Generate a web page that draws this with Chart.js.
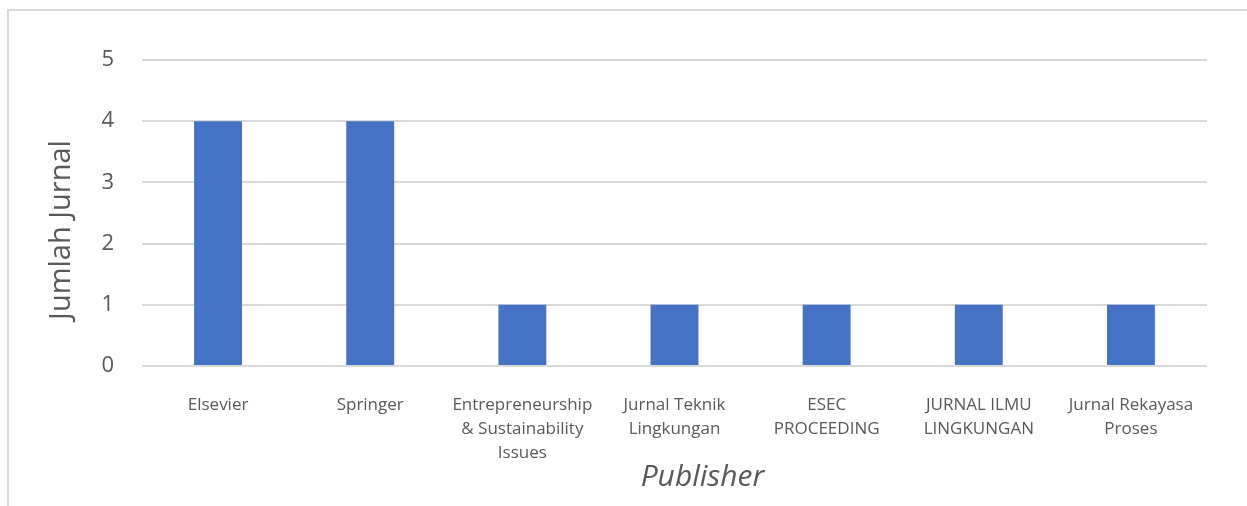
<!DOCTYPE html>
<html>
<head>
<meta charset="utf-8">
<script src="https://cdn.jsdelivr.net/npm/chart.js@4"></script>
<style>
    html, body { margin: 0; padding: 0; background: #fff; }
    #wrap { position: relative; width: 1247px; height: 506px; }
    #frame {
        position: absolute; left: 7px; top: 9px; width: 1260px; height: 520px;
        border: 2px solid #d9d9d9; pointer-events: none;
    }
</style>
</head>
<body>
<div id="wrap">
    <canvas id="myChart" width="1247" height="506"></canvas>
    <div id="frame"></div>
</div>
<script>
// nama penerbit (label sumbu x, dipecah per baris)
let publishers = [
    ['Elsevier'],
    ['Springer'],
    ['Entrepreneurship', '& Sustainability', 'Issues'],
    ['Jurnal Teknik', 'Lingkungan'],
    ['ESEC', 'PROCEEDING'],
    ['JURNAL ILMU', 'LINGKUNGAN'],
    ['Jurnal Rekayasa', 'Proses'],
];

// jumlah jurnal per penerbit
let jumlah = [4, 4, 1, 1, 1, 1, 1];

let yTicks = [0, 1, 2, 3, 4, 5];

let xTitle = 'Publisher';
let yTitle = 'Jumlah Jurnal';

const TEXT = '#595959';
const GRID = '#d9d9d9';
const BLUE = '#4472C4';

// judul sumbu digambar sendiri supaya posisinya mirip Excel
let axisTitles = {
    id: 'axisTitles',
    afterDraw: (chart) => {
        let ctx = chart.ctx;
        let area = chart.chartArea;
        ctx.save();
        ctx.fillStyle = TEXT;
        ctx.textAlign = 'center';
        ctx.textBaseline = 'middle';

        ctx.font = 'italic 30px "Open Sans"';
        ctx.fillText(xTitle, (area.left + area.right) / 2 + 28, area.bottom + 111);

        ctx.translate(62, (area.top + area.bottom) / 2 + 17);
        ctx.rotate(-Math.PI / 2);
        ctx.font = '29px "Open Sans"';
        ctx.fillText(yTitle, 0, 0);
        ctx.restore();
    }
};

let data = {
    labels: publishers,
    datasets: [{
        label: yTitle,
        backgroundColor: BLUE,
        borderWidth: 0,
        data: jumlah,
        categoryPercentage: 1,
        barPercentage: 0.315,
    }]
};

let config = {
    type: 'bar',
    data: data,
    plugins: [axisTitles],
    options: {
        responsive: false,
        animation: false,
        layout: { padding: { top: 60, right: 40, left: 0, bottom: 0 } },
        plugins: {
            legend: { display: false },
            tooltip: { enabled: false },
        },
        scales: {
            x: {
                grid: { display: false },
                border: { display: false },
                ticks: {
                    color: TEXT,
                    padding: 19,
                    maxRotation: 0,
                    autoSkip: false,
                    font: { family: 'Open Sans', size: 17, lineHeight: 1.41 },
                },
                afterFit: (scale) => { scale.height = 140; },
            },
            y: {
                min: 0,
                max: 5,
                afterBuildTicks: (scale) => {
                    scale.ticks = yTicks.map(v => ({ value: v }));
                },
                grid: { color: GRID, lineWidth: 2, drawTicks: false },
                border: { display: false },
                ticks: {
                    color: TEXT,
                    padding: 28,
                    font: { family: 'Open Sans', size: 22 },
                },
                afterFit: (scale) => { scale.width = 142; },
            },
        },
    },
};

let myChart = new Chart(document.getElementById('myChart'), config);
</script>
</body>
</html>
